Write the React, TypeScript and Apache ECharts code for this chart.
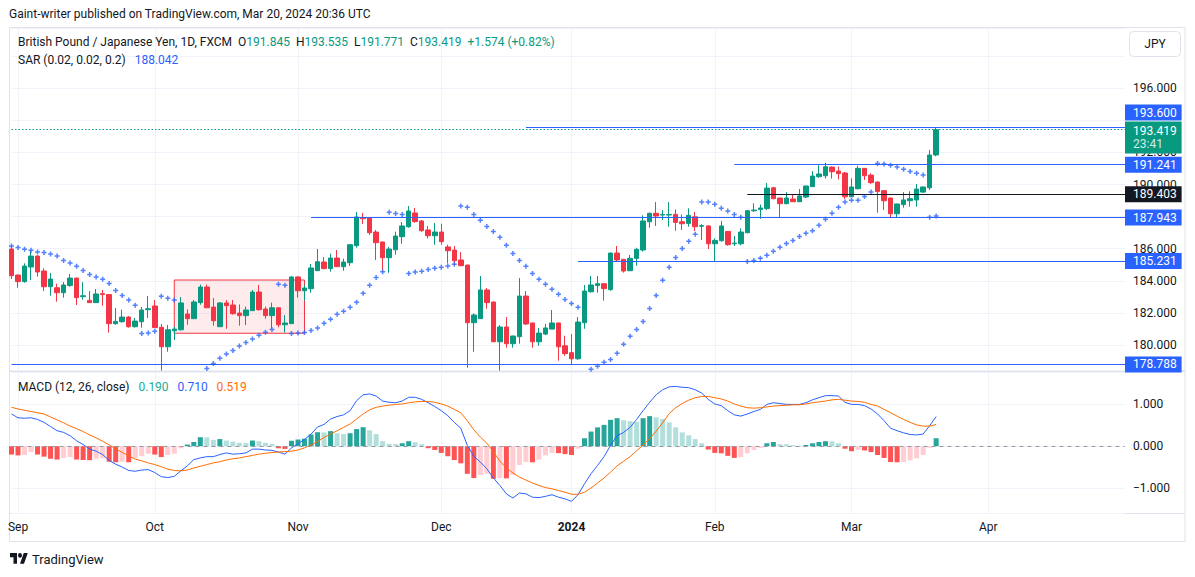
import React, { useEffect, useRef } from 'react';
import * as echarts from 'echarts';

const FONT = 'Roboto, "Noto Sans", sans-serif';

// ---------- calendar (daily FX bars, weekdays, holidays skipped) ----------
const FIRST_DAY = '2023-08-31';
const N_CATS = 172; // includes empty future slots on the right
const HOLIDAYS = ['2023-12-25', '2024-01-01'];
const MONTHS = ['Jan', 'Feb', 'Mar', 'Apr', 'May', 'Jun', 'Jul', 'Aug', 'Sep', 'Oct', 'Nov', 'Dec'];

// ---------- GBP/JPY daily candles ----------
const OPEN = [
  185.98, 184.36, 183.95, 184.86, 185.54, 184.61, 183.63, 183.57, 183.26, 183.70,
  184.17, 183.01, 182.78, 182.64, 183.20, 183.14, 181.33, 181.45, 181.74, 181.14,
  181.45, 182.20, 182.43, 181.10, 179.89, 180.89, 180.95, 181.93, 181.64, 182.64,
  183.61, 182.36, 181.14, 182.62, 182.49, 181.99, 181.83, 182.14, 183.30, 182.24,
  181.83, 182.32, 181.26, 181.33, 184.24, 183.38, 183.51, 184.63, 185.17, 184.76,
  185.42, 184.88, 185.13, 186.19, 187.94, 187.94, 187.04, 186.42, 185.44, 185.94,
  186.75, 187.37, 188.23, 187.73, 187.17, 186.81, 187.04, 186.11, 185.92, 185.30,
  184.98, 181.39, 181.64, 183.43, 182.68, 180.20, 181.12, 180.08, 180.52, 183.05,
  181.37, 180.20, 180.68, 180.99, 181.37, 179.95, 179.52, 179.14, 181.39, 183.32,
  183.70, 183.82, 183.45, 185.73, 185.34, 184.63, 185.40, 185.92, 187.68, 188.21,
  188.10, 188.10, 188.14, 187.68, 187.58, 187.99, 187.40, 187.42, 186.31, 186.50,
  187.08, 186.31, 186.31, 187.00, 188.37, 188.45, 188.50, 189.80, 189.16, 188.81,
  189.10, 188.93, 189.22, 189.87, 190.49, 190.55, 191.09, 190.84, 190.72, 189.24,
  189.74, 191.01, 190.59, 190.16, 189.62, 189.16, 188.18, 188.75, 188.99, 189.04,
  189.53, 189.80, 191.845,
];
const HIGH = [
  186.19, 184.40, 185.09, 185.88, 185.60, 184.78, 184.49, 183.82, 183.92, 184.42,
  184.20, 183.92, 183.36, 183.49, 183.43, 183.16, 182.30, 182.20, 181.80, 181.68,
  182.37, 183.05, 182.80, 181.31, 181.24, 181.14, 182.99, 182.22, 182.80, 183.76,
  183.76, 182.93, 182.68, 182.80, 182.80, 182.53, 182.39, 183.43, 183.74, 182.39,
  182.64, 182.34, 181.87, 184.28, 184.28, 183.74, 185.05, 185.98, 185.48, 185.69,
  185.92, 185.38, 186.29, 188.29, 188.23, 187.96, 187.17, 186.44, 186.11, 187.06,
  187.66, 188.66, 188.54, 187.79, 187.42, 187.60, 187.56, 186.25, 186.17, 185.79,
  185.00, 181.97, 184.30, 183.55, 182.70, 181.24, 181.74, 180.58, 184.17, 183.36,
  181.39, 181.06, 181.31, 182.18, 181.39, 180.58, 180.68, 181.74, 183.74, 184.30,
  184.30, 183.86, 185.75, 186.17, 185.36, 185.61, 186.06, 188.08, 188.25, 188.91,
  188.41, 188.91, 188.45, 188.14, 188.52, 188.29, 187.54, 187.46, 186.65, 187.73,
  187.10, 186.79, 187.27, 188.41, 188.83, 188.75, 190.10, 189.85, 189.18, 189.53,
  189.41, 189.72, 189.93, 190.84, 191.20, 191.36, 191.13, 191.13, 190.78, 190.39,
  191.17, 191.03, 190.70, 190.18, 189.64, 189.18, 188.81, 189.53, 189.58, 190.03,
  189.87, 192.15, 193.535,
];
const LOW = [
  184.11, 183.57, 183.88, 184.05, 184.26, 183.36, 183.07, 182.70, 182.95, 183.63,
  182.49, 182.82, 182.62, 182.62, 182.45, 180.77, 181.26, 181.39, 181.08, 181.08,
  181.08, 181.68, 181.06, 178.40, 179.58, 180.31, 180.89, 181.26, 181.62, 182.51,
  182.30, 181.20, 181.12, 181.01, 181.89, 181.20, 181.24, 182.12, 182.14, 181.64,
  181.01, 181.10, 180.77, 181.31, 182.95, 182.76, 183.26, 184.61, 184.71, 184.57,
  184.86, 184.63, 184.92, 186.06, 187.54, 186.87, 185.30, 184.57, 184.50, 185.63,
  186.31, 187.31, 187.62, 187.06, 186.63, 186.25, 186.25, 185.09, 185.00, 184.92,
  178.58, 179.58, 181.62, 182.26, 180.18, 178.40, 179.83, 179.83, 180.08, 181.24,
  179.83, 179.95, 180.62, 180.99, 179.02, 179.33, 178.79, 179.08, 181.01, 183.26,
  183.26, 182.76, 183.38, 185.17, 184.51, 184.61, 184.94, 185.82, 187.31, 187.42,
  187.79, 187.37, 187.12, 187.17, 187.37, 187.10, 186.54, 185.98, 185.21, 186.44,
  186.19, 186.17, 186.21, 186.96, 188.29, 187.87, 188.41, 189.08, 187.96, 188.77,
  188.91, 188.91, 189.16, 189.85, 190.41, 190.37, 190.37, 190.32, 189.10, 189.22,
  189.70, 190.28, 190.03, 188.25, 188.41, 187.96, 187.96, 188.56, 188.62, 188.62,
  189.49, 189.66, 191.771,
];
const CLOSE = [
  184.32, 183.95, 184.92, 185.54, 184.55, 183.63, 184.11, 183.26, 183.74, 184.17,
  182.95, 183.07, 182.64, 183.18, 183.14, 181.33, 181.47, 181.74, 181.14, 181.49,
  182.18, 182.26, 181.08, 179.89, 180.95, 180.99, 182.62, 181.64, 182.68, 183.61,
  182.32, 181.51, 182.62, 182.45, 181.95, 181.83, 182.18, 183.30, 182.20, 181.83,
  182.32, 181.26, 181.37, 184.24, 183.38, 183.55, 184.80, 185.19, 184.76, 185.42,
  184.88, 185.17, 186.25, 187.98, 187.87, 187.00, 186.38, 185.44, 185.98, 186.79,
  187.42, 188.35, 187.69, 187.12, 186.81, 187.04, 186.44, 185.88, 185.25, 184.94,
  181.39, 181.87, 183.43, 182.64, 180.20, 181.12, 180.08, 180.56, 183.05, 181.31,
  180.20, 180.74, 181.06, 181.37, 179.89, 179.46, 179.14, 181.43, 183.36, 183.74,
  183.82, 183.51, 185.73, 185.30, 184.61, 185.40, 185.96, 187.73, 188.21, 188.04,
  188.14, 188.14, 187.64, 187.56, 188.08, 187.37, 187.44, 186.31, 186.52, 187.42,
  186.25, 186.35, 187.04, 188.37, 188.41, 188.54, 189.78, 189.12, 188.81, 189.16,
  188.93, 189.29, 189.91, 190.53, 190.66, 191.11, 190.80, 190.68, 189.24, 189.85,
  191.01, 190.55, 190.12, 189.56, 188.99, 188.18, 188.79, 189.04, 189.12, 189.72,
  189.85, 191.84, 193.419,
];

// ---------- Parabolic SAR (0.02, 0.02, 0.2) ----------
const SAR = [
  186.17, 186.08, 185.96, 185.90, 185.80, 185.76, 185.67, 185.54, 185.27, 185.11,
  184.90, 184.65, 184.40, 184.24, 184.09, 183.84, 183.40, 183.09, 182.80, 182.47,
  180.72, 180.74, 180.85, 183.03, 182.91, 182.80, 178.20, 178.26, 178.33, 178.42,
  178.54, 178.85, 179.17, 179.44, 179.66, 179.93, 180.16, 180.37, 180.60, 180.79,
  180.97, 183.78, 183.72, 180.72, 180.74, 180.77, 180.91, 181.06, 181.35, 181.60,
  181.91, 182.10, 182.35, 182.66, 183.22, 183.72, 184.21, 184.57, 188.27, 188.20,
  188.14, 184.46, 184.55, 184.59, 184.71, 184.78, 184.84, 184.92, 185.03, 188.66,
  188.58, 188.14, 187.77, 187.39, 187.08, 186.71, 186.21, 185.71, 185.27, 184.90,
  184.46, 184.09, 183.78, 183.47, 183.16, 182.84, 182.59, 182.35, 178.30, 178.48,
  178.67, 178.92, 179.10, 179.48, 180.04, 180.54, 180.97, 181.47, 182.28, 183.09,
  184.03, 184.84, 185.46, 186.02, 186.46, 186.90, 188.91, 188.91, 188.77, 188.52,
  188.35, 188.14, 187.96, 185.21, 185.27, 185.40, 185.59, 185.84, 186.09, 186.33,
  186.52, 186.77, 186.96, 187.12, 187.46, 187.83, 188.21, 188.58, 188.91, 189.02,
  189.02, 189.26, 189.53, 191.32, 191.28, 191.20, 191.09, 190.95, 190.82, 190.70,
  190.59, 187.96, 188.042,
];

// ---------- MACD (12, 26, close) ----------
const MACD = [
  0.77, 0.68, 0.67, 0.68, 0.64, 0.57, 0.47, 0.37, 0.33, 0.25,
  0.13, 0.04, -0.07, -0.12, -0.20, -0.34, -0.43, -0.50, -0.58, -0.60,
  -0.57, -0.56, -0.63, -0.73, -0.75, -0.72, -0.59, -0.47, -0.32, -0.28,
  -0.25, -0.25, -0.20, -0.16, -0.19, -0.18, -0.16, -0.07, -0.07, -0.09,
  -0.10, -0.14, -0.19, -0.04, 0.06, 0.16, 0.29, 0.46, 0.52, 0.65,
  0.71, 0.75, 0.85, 1.09, 1.23, 1.25, 1.20, 1.08, 1.05, 1.04,
  1.08, 1.17, 1.17, 1.12, 1.04, 0.95, 0.85, 0.73, 0.57, 0.43,
  0.02, -0.24, -0.38, -0.54, -0.76, -0.94, -1.14, -1.24, -1.12, -1.14,
  -1.22, -1.23, -1.20, -1.16, -1.22, -1.26, -1.32, -1.16, -0.90, -0.66,
  -0.46, -0.25, 0.02, 0.25, 0.33, 0.45, 0.64, 0.85, 1.05, 1.23,
  1.35, 1.42, 1.43, 1.41, 1.40, 1.35, 1.27, 1.12, 1.01, 0.97,
  0.85, 0.75, 0.72, 0.77, 0.83, 0.88, 1.00, 1.04, 1.02, 1.00,
  1.00, 1.00, 1.04, 1.11, 1.16, 1.21, 1.21, 1.20, 1.05, 1.00,
  1.00, 0.97, 0.89, 0.77, 0.61, 0.43, 0.37, 0.32, 0.28, 0.27,
  0.29, 0.49, 0.71,
];
const SIGNAL = [
  0.93, 0.89, 0.86, 0.83, 0.80, 0.77, 0.70, 0.63, 0.56, 0.48,
  0.42, 0.35, 0.27, 0.20, 0.12, 0.03, -0.06, -0.15, -0.23, -0.31,
  -0.35, -0.40, -0.44, -0.49, -0.55, -0.58, -0.59, -0.57, -0.52, -0.48,
  -0.44, -0.40, -0.37, -0.33, -0.30, -0.28, -0.25, -0.22, -0.19, -0.17,
  -0.15, -0.14, -0.13, -0.12, -0.09, -0.04, 0.03, 0.11, 0.21, 0.29,
  0.37, 0.45, 0.53, 0.65, 0.77, 0.87, 0.93, 0.96, 0.98, 1.00,
  1.01, 1.04, 1.06, 1.07, 1.07, 1.05, 1.01, 0.96, 0.88, 0.80,
  0.61, 0.39, 0.22, 0.07, -0.13, -0.36, -0.52, -0.64, -0.74, -0.81,
  -0.88, -0.94, -0.99, -1.02, -1.06, -1.10, -1.15, -1.15, -1.10, -1.00,
  -0.88, -0.76, -0.62, -0.47, -0.36, -0.25, -0.11, 0.03, 0.18, 0.36,
  0.56, 0.78, 0.92, 1.02, 1.10, 1.16, 1.19, 1.19, 1.16, 1.13,
  1.08, 1.01, 0.96, 0.92, 0.91, 0.92, 0.94, 0.96, 0.97, 0.98,
  0.99, 0.99, 1.01, 1.04, 1.06, 1.08, 1.11, 1.12, 1.10, 1.08,
  1.07, 1.05, 1.00, 0.96, 0.88, 0.80, 0.72, 0.64, 0.57, 0.51,
  0.48, 0.48, 0.52,
];
const HIST = [
  -0.20, -0.22, -0.21, -0.14, -0.20, -0.25, -0.30, -0.32, -0.28, -0.26,
  -0.32, -0.33, -0.335, -0.30, -0.29, -0.37, -0.385, -0.37, -0.385, -0.29,
  -0.24, -0.18, -0.20, -0.26, -0.21, -0.18, -0.05, 0.04, 0.10, 0.215,
  0.21, 0.15, 0.17, 0.135, 0.11, 0.08, 0.075, 0.135, 0.12, 0.08,
  0.055, -0.05, -0.065, 0.13, 0.16, 0.18, 0.28, 0.335, 0.33, 0.36,
  0.31, 0.29, 0.31, 0.41, 0.455, 0.38, 0.29, 0.12, 0.056, 0.05,
  0.07, 0.12, 0.095, 0.048, -0.048, -0.09, -0.16, -0.24, -0.33, -0.41,
  -0.66, -0.76, -0.69, -0.66, -0.78, -0.76, -0.77, -0.69, -0.45, -0.38,
  -0.385, -0.32, -0.22, -0.16, -0.165, -0.19, -0.21, -0.06, 0.19, 0.35,
  0.45, 0.51, 0.63, 0.67, 0.62, 0.60, 0.58, 0.67, 0.72, 0.69,
  0.65, 0.57, 0.45, 0.33, 0.26, 0.17, 0.07, -0.08, -0.16, -0.17,
  -0.23, -0.28, -0.26, -0.17, -0.09, -0.04, 0.07, 0.10, 0.05, 0.045,
  0.025, 0.01, 0.03, 0.07, 0.10, 0.12, 0.115, 0.07, -0.06, -0.12,
  -0.09, -0.10, -0.14, -0.21, -0.28, -0.38, -0.385, -0.38, -0.34, -0.29,
  -0.21, -0.04, 0.19,
];

// ---------- drawn horizontal levels ----------
const LEVELS = [193.6, 191.241, 189.403, 187.943, 185.231, 178.788];
const LEVEL_START = [79, 111, 113, 46, 87, 0];
const LEVEL_COLORS = ['#2962ff', '#2962ff', '#131722', '#2962ff', '#2962ff', '#2962ff'];
const LAST_PRICE = 193.419;
const COUNTDOWN = '23:41';
// rectangle drawing (consolidation box)
const BOX = { from: 25, to: 45, top: 184.05, bottom: 180.73 };
// price-scale ticks hidden behind the level tags in the reference
const HIDDEN_TICKS = [198, 194];

const TV_LOGO = 'M14 22H7V11H0V4h14v18zM28 22h-8l7.5-18h8L28 22zM24 8a4 4 0 1 1-8 0a4 4 0 1 1 8 0z';
echarts.graphic.registerShape('tvlogo', echarts.graphic.extendPath(TV_LOGO, {}));

function buildDates(): string[] {
  const out: string[] = [];
  const [y, m, d] = FIRST_DAY.split('-').map(Number);
  const cur = new Date(Date.UTC(y, m - 1, d));
  while (out.length < N_CATS) {
    const wd = cur.getUTCDay();
    const s = cur.toISOString().slice(0, 10);
    if (wd !== 0 && wd !== 6 && !HOLIDAYS.includes(s)) out.push(s);
    cur.setUTCDate(cur.getUTCDate() + 1);
  }
  return out;
}

export default function App() {
  const ref = useRef<HTMLDivElement>(null);

  useEffect(() => {
    if (!ref.current) return;
    const chart = echarts.init(ref.current, null, { renderer: 'svg' });
    const DATES = buildDates();
    const LAST = DATES.length - 1;
    const monthStart = new Set<number>();
    DATES.forEach((d, i) => {
      if (i > 0 && d.slice(5, 7) !== DATES[i - 1].slice(5, 7)) monthStart.add(i);
    });
    const isMonthStart = (i: number) => monthStart.has(i);
    const monthLabel = (v: string) => {
      const mo = Number(v.slice(5, 7));
      if (mo === 1) return '{y|' + v.slice(0, 4) + '}';
      return MONTHS[mo - 1];
    };

    const candles = OPEN.map((o, i) => [o, CLOSE[i], LOW[i], HIGH[i]]);
    const histData = HIST.map((v, i) => {
      const prev = i > 0 ? HIST[i - 1] : v;
      let color;
      if (v >= 0) color = v >= prev ? '#26a69a' : '#b2dfdb';
      else color = v <= prev ? '#ff5252' : '#ffcdd2';
      return { value: v, itemStyle: { color } };
    });

    const labelBase = {
      show: true,
      position: 'end',
      distance: 0,
      color: '#ffffff',
      fontSize: 12,
      fontFamily: FONT,
      lineHeight: 13,
      padding: [2, 5, 1, 8],
    };
    const clear = { color: 'rgba(0,0,0,0)', width: 1, type: 'solid' };

    const levelLines: any[] = LEVELS.map((v, k) => [
      {
        coord: [DATES[LEVEL_START[k]], v],
        lineStyle: { color: LEVEL_COLORS[k], width: 1, type: 'solid' },
        label: k === 0
          ? { show: false }
          : { ...labelBase, formatter: v.toFixed(3), backgroundColor: LEVEL_COLORS[k] },
      },
      { coord: [DATES[LAST], v] },
    ]);
    // 193.600 tag is stacked above the live-price tag (shifted up ~14px); live-price tag shifted down ~8px
    const shiftUp = 0.89;
    const shiftDown = 0.49;
    const extra: any[] = [
      [
        { coord: [DATES[0], LAST_PRICE], lineStyle: { color: '#089981', width: 1.2, type: [1.5, 2] }, label: { show: false } },
        { coord: [DATES[LAST], LAST_PRICE] },
      ],
      [
        { coord: [DATES[LAST - 1], LEVELS[0] + shiftUp], lineStyle: clear,
          label: { ...labelBase, formatter: LEVELS[0].toFixed(3), backgroundColor: '#2962ff' } },
        { coord: [DATES[LAST], LEVELS[0] + shiftUp] },
      ],
      [
        { coord: [DATES[LAST - 1], LAST_PRICE - shiftDown], lineStyle: clear,
          label: {
            ...labelBase,
            formatter: '{p|' + LAST_PRICE.toFixed(3) + '}\n{t|' + COUNTDOWN + '}',
            backgroundColor: '#089981',
            padding: [3, 5, 3, 8],
            rich: {
              p: { color: '#ffffff', fontSize: 12, lineHeight: 13, fontFamily: FONT },
              t: { color: 'rgba(255,255,255,0.82)', fontSize: 12, lineHeight: 13, fontFamily: FONT },
            },
          } },
        { coord: [DATES[LAST], LAST_PRICE - shiftDown] },
      ],
    ];

    const plus = 'path://M3.5,0h3v3.5h3.5v3h-3.5v3.5h-3v-3.5h-3.5v-3h3.5z';

    const txt = (x: number, y: number, text: string, rich: any, extraStyle: any = {}) => ({
      type: 'text', x, y, silent: true, z: 10,
      style: { text, rich, fontSize: 12, fontFamily: FONT, fill: '#131722', verticalAlign: 'middle', ...extraStyle },
    });
    const R = {
      t: { fill: '#131722', fontSize: 12, fontFamily: FONT },
      g: { fill: '#089981', fontSize: 12, fontFamily: FONT },
      b: { fill: '#2962ff', fontSize: 12, fontFamily: FONT },
      o: { fill: '#ff6d00', fontSize: 12, fontFamily: FONT },
      h: { fill: '#22ab94', fontSize: 12, fontFamily: FONT },
    };

    const option: any = {
      animation: false,
      backgroundColor: '#ffffff',
      textStyle: { fontFamily: FONT },
      grid: [
        { left: 11.5, right: 70, top: 28, height: 342, show: false },
        { left: 11.5, right: 70, top: 372, height: 141, show: false },
      ],
      xAxis: [
        {
          type: 'category', gridIndex: 0, data: DATES, boundaryGap: false,
          axisLine: { show: false }, axisTick: { show: false }, axisLabel: { show: false },
          splitLine: { show: true, interval: isMonthStart, lineStyle: { color: '#f0f3fa', width: 1 } },
        },
        {
          type: 'category', gridIndex: 1, data: DATES, boundaryGap: false,
          axisLine: { show: false }, axisTick: { show: false },
          axisLabel: {
            interval: isMonthStart, formatter: monthLabel, color: '#131722', fontSize: 12, margin: 8,
            fontFamily: FONT,
            rich: { y: { fontWeight: 'bold', fontSize: 12, color: '#131722', fontFamily: FONT } },
          },
          splitLine: { show: true, interval: isMonthStart, lineStyle: { color: '#f0f3fa', width: 1 } },
        },
      ],
      yAxis: [
        {
          type: 'value', gridIndex: 0, position: 'right', min: 178.44, max: 199.76,
          splitNumber: 10, minInterval: 2, maxInterval: 2,
          axisLine: { show: false }, axisTick: { show: false },
          axisLabel: {
            showMinLabel: false, showMaxLabel: false, color: '#131722', fontSize: 12, margin: 8,
            fontFamily: FONT,
            formatter: (v: number) => (HIDDEN_TICKS.some((h) => Math.abs(v - h) < 1e-6) ? '' : v.toFixed(3)),
          },
          splitLine: { lineStyle: { color: '#f0f3fa', width: 1 } },
        },
        {
          type: 'value', gridIndex: 1, position: 'right', min: -1.598, max: 1.775,
          splitNumber: 3, minInterval: 1, maxInterval: 1,
          axisLine: { show: false }, axisTick: { show: false },
          axisLabel: {
            showMinLabel: false, showMaxLabel: false, color: '#131722', fontSize: 12, margin: 8,
            fontFamily: FONT,
            formatter: (v: number) => (v < 0 ? '\u2212' + Math.abs(v).toFixed(3) : v.toFixed(3)),
          },
          splitLine: { lineStyle: { color: '#f0f3fa', width: 1 } },
        },
      ],
      series: [
        {
          name: 'GBPJPY', type: 'candlestick', xAxisIndex: 0, yAxisIndex: 0, data: candles,
          barWidth: 5,
          itemStyle: { color: '#089981', color0: '#f23645', borderColor: '#089981', borderColor0: '#f23645', borderWidth: 1 },
          markArea: {
            silent: true,
            itemStyle: { color: 'rgba(242,54,69,0.1)', borderColor: '#f23645', borderWidth: 1 },
            data: [[{ coord: [DATES[BOX.from], BOX.top] }, { coord: [DATES[BOX.to], BOX.bottom] }]],
          },
          markLine: {
            silent: true, symbol: ['none', 'none'], animation: false,
            label: { show: false },
            emphasis: { disabled: true },
            data: [...levelLines, ...extra],
          },
          z: 2,
        },
        {
          name: 'SAR', type: 'scatter', xAxisIndex: 0, yAxisIndex: 0, data: SAR,
          symbol: plus, symbolSize: 5, itemStyle: { color: '#2962ff' }, z: 3, clip: true,
        },
        {
          name: 'Histogram', type: 'bar', xAxisIndex: 1, yAxisIndex: 1, data: histData, barWidth: 5,
          markLine: {
            silent: true, symbol: ['none', 'none'], label: { show: false },
            lineStyle: { color: '#9598a1', type: [4, 4], width: 1 },
            data: [{ yAxis: 0 }],
          },
        },
        {
          name: 'MACD', type: 'line', xAxisIndex: 1, yAxisIndex: 1, data: MACD, showSymbol: false,
          symbol: 'none', lineStyle: { color: '#2962ff', width: 1 }, itemStyle: { color: '#2962ff' }, z: 4,
        },
        {
          name: 'Signal', type: 'line', xAxisIndex: 1, yAxisIndex: 1, data: SIGNAL, showSymbol: false,
          symbol: 'none', lineStyle: { color: '#ff6d00', width: 1 }, itemStyle: { color: '#ff6d00' }, z: 4,
        },
      ],
      graphic: [
        { type: 'rect', silent: true, z: 0, shape: { x: 9.5, y: 27.5, width: 1175.5, height: 514 }, style: { fill: 'none', stroke: '#e0e3eb', lineWidth: 1 } },
        { type: 'line', silent: true, shape: { x1: 10, y1: 371, x2: 1185, y2: 371 }, style: { stroke: '#e0e3eb', lineWidth: 2 } },
        { type: 'line', silent: true, shape: { x1: 10, y1: 513.5, x2: 1185, y2: 513.5 }, style: { stroke: '#e0e3eb', lineWidth: 1 } },
        txt(9, 14, 'Gaint-writer published on TradingView.com, Mar 20, 2024 20:36 UTC', undefined),
        txt(18, 42,
          '{t|British Pound / Japanese Yen, 1D, FXCM  O}{g|191.845}  {t|H}{g|193.535}  {t|L}{g|191.771}  {t|C}{g|193.419}  {g|+1.574 (+0.82%)}', R),
        txt(18, 59.5, '{t|SAR (0.02, 0.02, 0.2)}   {b|188.042}', R),
        txt(18, 387, '{t|MACD (12, 26, close)}   {h|0.190}   {b|0.710}   {o|0.519}', R),
        { type: 'rect', silent: true, shape: { x: 1129.5, y: 31.5, width: 51, height: 25, r: 4 }, style: { fill: '#ffffff', stroke: '#e0e3eb', lineWidth: 1 } },
        { type: 'text', silent: true, x: 1155, y: 44, style: { text: 'JPY', align: 'center', verticalAlign: 'middle', fontSize: 12, fontFamily: FONT, fill: '#131722' } },
        { type: 'tvlogo', silent: true, x: 10, y: 550.6, scaleX: 0.5, scaleY: 0.6, style: { fill: '#131722' } },
        { type: 'text', silent: true, x: 32, y: 559, style: { text: 'TradingView', verticalAlign: 'middle', fontSize: 13, fontFamily: FONT, fill: '#131722' } },
      ],
    };

    chart.setOption(option);
    return () => chart.dispose();
  }, []);

  return (
    <div
      ref={ref}
      style={{ position: 'absolute', left: 0, top: 0, width: 1195, height: 577, background: '#ffffff' }}
    />
  );
}
